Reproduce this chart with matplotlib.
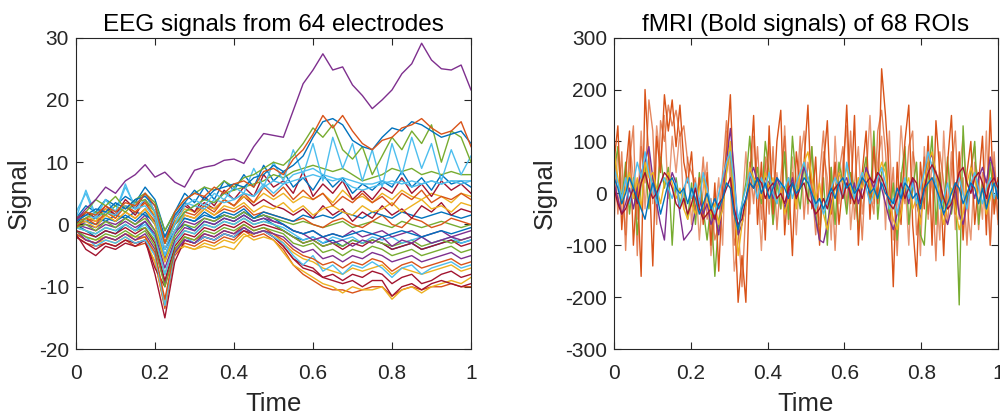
import numpy as np
import matplotlib
matplotlib.use("Agg")
import matplotlib.pyplot as plt

# ----------------------------------------------------------------------
# Data
# ----------------------------------------------------------------------
eeg_time = np.linspace(0, 1, 41)
fmri_time = np.linspace(0, 1, 100)

# MATLAB default colour order
C_BLUE, C_ORANGE, C_YELLOW, C_PURPLE = "#0072BD", "#D95319", "#EDB120", "#7E2F8E"
C_GREEN, C_CYAN, C_DRED = "#77AC30", "#4DBEEE", "#A2142F"

eeg_purple_top = [0.7, 2.5, 4, 6, 5, 7, 8, 9.6, 7.6, 8.4, 6.8, 6, 8.7, 9.2, 9.5, 10.3, 10.5,
                  9.8, 12.5, 14.6, 14.3, 14, 18.3, 22.6, 24.8, 27.4, 24.8, 25.3, 22.4, 20.7,
                  18.6, 20, 21.6, 24.2, 25.8, 29.1, 26.4, 25, 24.8, 25.6, 21.6]
eeg_red_top = [1, 2, 1.5, 3, 2, 3.5, 3, 5, 3, -3, 2, 4, 5, 4.5, 6, 5, 6.5, 7, 6, 8.5, 9, 8,
               10.5, 12, 14.5, 17.5, 15.5, 17.5, 15, 13, 12, 13.5, 14, 15.5, 16, 17, 15.5,
               14.5, 15, 16.5, 12.5]
eeg_blue_top = [0.5, 1.5, 2.5, 2, 3.5, 2.5, 4, 4.5, 3, -2, 1.5, 3.5, 5.5, 4, 5.5, 6, 6.5, 6,
                7.5, 8, 9.5, 8.5, 9.5, 11, 14, 16.5, 17, 16, 13.5, 12.5, 12, 14, 15.5, 15,
                16.5, 16, 15, 14, 14.5, 15, 13]
eeg_green_osc = [1, 2, 4, 3, 4.5, 2.5, 4, 5, 3.5, -1, 2, 4, 5, 6, 5.5, 7, 6, 7.5, 8, 9, 10,
                 9.5, 11, 13, 15.5, 14, 16, 12, 10.5, 12.5, 8, 11, 14, 12, 15, 13, 16, 10,
                 15, 14, 10]
eeg_cyan_osc = [2, 5, 1, 4, 2, 6, 3, 5, 2, -4, 0, 3, 4, 3, 5, 4, 6, 5, 9, 6, 10, 7, 12, 8,
                13, 7, 14, 9, 13, 7, 12, 6, 13, 8, 14, 9, 13, 7, 12, 8, 11]
eeg_green_9 = [0, 1, 2, 1.5, 3, 2, 3.5, 4, 2, -3, 0, 2, 3, 4, 3.5, 5, 5.5, 6, 6.5, 7, 8, 7.5,
               8.5, 9, 9.5, 9, 8.5, 9, 8, 7, 7.5, 8, 9, 8.5, 9, 8, 8.5, 8, 8.5, 8, 8]
eeg_cyan_7 = [0.5, 1.5, 1, 2, 1.5, 3, 2.5, 3, 1, -5, -1, 2, 3, 2.5, 4, 3.5, 4, 5, 4.5, 6, 7,
              6.5, 8, 8.5, 9, 8, 7.5, 7, 6, 5.5, 6, 6.5, 7, 6.5, 7, 6.5, 7, 6.5, 7, 7, 7]
eeg_cyan_spiky = [1, 5.5, 1.5, 4, 2, 6.5, 2.5, 4, 2, -2, 1, 3.5, 3, 4, 3.5, 5, 4, 5, 4.5,
                  6.5, 5, 6.5, 7, 7.5, 8, 7.5, 7, 7.5, 7, 6.5, 6.5, 7, 6.5, 7, 6, 6.5, 7,
                  6.5, 7, 6.5, 7]
eeg_blue_mid = [1, 3, 2, 4, 3, 4.5, 3.5, 6, 4, -1, 2, 5, 3.5, 6, 4, 7, 5.5, 8, 6, 9.5, 7,
                8.5, 6, 7.5, 5.5, 8, 6, 7.5, 5, 6.5, 5.5, 7, 6, 8.5, 6, 7.5, 5.5, 8, 6.5, 7, 6]
eeg_dred_mid = [0, 2, 1, 3, 1.5, 4, 2.5, 5, 2, -3, 1, 3.5, 2, 4.5, 3, 5.5, 4, 6, 4.5, 8, 6,
                7, 5, 8.5, 4.5, 6.5, 5, 7, 4, 5.5, 4, 6, 5, 7.5, 5, 6.5, 4.5, 7, 5.5, 6.5, 5]
eeg_orange_mid = [-0.5, 1, 0, 2, 1, 3, 2, 3.5, 1, -4, 0, 2, 1.5, 3, 2, 4, 3, 5, 3.5, 6, 4.5,
                  6, 4, 5.5, 4, 5, 3, 4.5, 3.5, 5, 3.5, 4.5, 3, 5, 4, 5.5, 3.5, 4.5, 4, 5, 4]
eeg_yellow_mid = [0.5, 1.5, 0.5, 2.5, 1, 3, 2, 3.5, 1.5, -3, 0.5, 2.5, 2, 3, 2.5, 4, 3, 4.5,
                  3.5, 5, 4, 5, 3.5, 4.5, 4, 5, 3.5, 5.5, 4, 4.5, 3.5, 5, 4, 5.5, 4.5, 4, 5,
                  4.5, 3.5, 5, 4.5]
eeg_yellow_3 = [0, 0.5, -0.5, 1.5, 0.5, 2, 1, 2.5, 0, -6, -1, 1.5, 1, 2.5, 1.5, 3, 2.5, 3.5,
                2, 3, 2.5, 3.5, 2, 3, 1.5, 2.5, 3, 2, 1.5, 3, 2, 2.5, 3.5, 2, 3, 4, 2.5, 3, 2,
                3.5, 3]
eeg_dred_2 = [0.5, 2, 1, 2.5, 1.5, 3, 1.5, 4, 1, -2, 1, 3, 2, 3.5, 2.5, 4, 3, 4.5, 3, 4, 3,
              2.5, 1.5, 2.5, 1, 3, 1.5, 2.5, 0.5, 2, 1, 3, 1.5, 2.5, 1, 3, 2, 3.5, 1.5, 2.5, 2]
eeg_blue_1 = [0, 0.5, 0, 1, 0.5, 1.5, 0.5, 2, 0, -5, -1, 1, 0.5, 2, 1, 2, 1.5, 2.5, 1, 2,
              1.5, 1, 0.5, 1.5, 1, 1.5, 1, 2, 1.5, 1, 2, 1.5, 1, 2, 1.5, 1, 1.5, 2, 1.5, 1, 1.5]
eeg_orange_0 = [0.5, 1, 0.5, 1.5, 0.5, 2, 1, 2.5, 0.5, -3, 0, 1.5, 1, 2.5, 1.5, 2.5, 2, 3,
                1.5, 2, 1.5, 1, 0.5, 1, 0, -0.5, 0.5, 1, 0, -0.5, 0.5, 1.5, 0, -0.5, 1, 0.5,
                -0.5, 0, 1, 0.5, 0]
eeg_green_0 = [-0.5, 0, -1, 0.5, -0.5, 1, 0, 1, -1, -6, -2, 0, -0.5, 1, 0.5, 1.5, 1, 2, 1,
               1.5, 1, 0.5, 0, 0.5, 0, -0.5, 0, 0.5, -0.5, 0, 0.5, 0, -0.5, 0.5, 0, -0.5, 0,
               0.5, 0, -0.5, 0]
eeg_blue_m1 = [0, 0.5, 1, 0.5, 1.5, 1, 2, 1.5, 0.5, -2, 0.5, 1, 0.5, 1.5, 1, 1.5, 1, 2, 1,
               1.5, 1, 0, -1, -1.5, -1, -2, -1.5, -2, -1.5, -1, -1.5, -2, -1.5, -1, -1.5, -2,
               -1.5, -1, -1.5, -1, -0.5]
eeg_purple_m1 = [0, -0.5, -1, 0, -0.5, 0.5, -0.5, 0.5, -1.5, -7, -2.5, -0.5, -1, 0.5, 0, 1,
                 0.5, 1.5, 0.5, 1, 0.5, 0, -1, -1.5, -1, -2, -1.5, -2, -1, -2, -1.5, -1, -2,
                 -1.5, -1, -2, -1.5, -1, -2, -1.5, -1]
eeg_purple_m2 = [0.5, 0, -0.5, 0.5, 0, 1, 0, 1.5, -1, -5.5, -1.5, 0.5, 0, 1, 0.5, 1.5, 1, 2,
                 1, 1.5, 0.5, 0, -1, -1.5, -2.5, -2, -3, -2.5, -3.5, -2.5, -3, -2, -3.5,
                 -2.5, -3, -2, -3, -2.5, -2, -2.5, -2]
eeg_cyan_m2 = [-0.5, -1, -1.5, -0.5, -1, 0, -1, 0, -2, -8, -3, -1, -1.5, 0, -0.5, 0.5, 0, 1,
               0, 0.5, 0, -0.5, -1.5, -2.5, -2, -3, -2, -2.5, -2, -3, -2, -2.5, -2, -3, -2.5,
               -2, -3, -2.5, -2, -3, -2.5]
eeg_green_m3 = [-0.5, -1, -1.5, -0.5, -1, 0, -1, -0.5, -2.5, -8, -3, -1, -1.5, 0, -0.5, 0.5,
                0, 1, 0, 0.5, 0, -1, -2, -3, -2.5, -3.5, -3, -3.5, -2.5, -3, -2.5, -3, -3.5,
                -3, -2.5, -3.5, -3, -2.5, -3, -2.5, -2]
eeg_dred_m3 = [-1, -1.5, -2, -1, -1.5, -0.5, -1.5, -0.5, -3, -9, -3.5, -1.5, -2, -0.5, -1, 0,
               -0.5, 0.5, -0.5, 0, -0.5, -1, -2, -3, -2.5, -3.5, -3, -4, -3, -3.5, -2.5, -3,
               -4, -3.5, -3, -4, -3.5, -3, -2.5, -3.5, -3]
eeg_blue_m3 = [0, -1, -2, -1, -1.5, 0, -1, 0.5, -2, -4, -1, 0, -1, 0.5, 0, 1, 0.5, 1.5, 0.5,
               1, 0, -1, -2, -2.5, -2, -3, -2.5, -3.5, -2.5, -3, -2.5, -3, -4, -3.5, -3, -4,
               -3.5, -3, -2.5, -3, -2.5]
eeg_green_m4 = [-1, -2, -2.5, -1.5, -2, -1, -2, -1, -3.5, -10, -4, -2, -2.5, -1, -1.5, -0.5,
                -1, 0, -1, -0.5, -1, -1.5, -3, -3.5, -3, -4.5, -4, -5, -4, -4.5, -3.5, -4, -5,
                -4.5, -4, -5, -4.5, -4, -3.5, -4.5, -4]
eeg_purple_m5 = [-1, -2.5, -3, -2, -2.5, -1.5, -2.5, -1.5, -4, -9.5, -4.5, -2.5, -3, -1.5, -2,
                 -1, -1.5, -0.5, -1.5, -1, -1.5, -2, -3.5, -4.5, -4, -5.5, -5, -6, -5, -5.5,
                 -4.5, -5, -6, -5.5, -5, -6, -5.5, -5, -4.5, -5.5, -5]
eeg_orange_m6 = [-1.5, -2.5, -3, -2, -2.5, -1.5, -2.5, -2, -4.5, -12, -4, -2, -2.5, -1.5, -2,
                 -1, -1.5, 0, -1, -0.5, -1.5, -2.5, -4, -5, -5.5, -6.5, -6, -7, -6, -6.5,
                 -5.5, -6, -7.5, -6.5, -6, -7, -6.5, -6, -5.5, -6.5, -6]
eeg_cyan_m7 = [-1, -2, -3.5, -2.5, -3, -2, -3, -2.5, -5, -13, -4.5, -2, -3, -2, -2.5, -1.5,
               -2, -0.5, -1.5, -1, -2, -3, -5, -6.5, -5, -7.5, -6.5, -8, -6.5, -7, -6, -7,
               -8.5, -7, -6.5, -8, -7, -6.5, -6, -7, -6.5]
eeg_yellow_m7 = [-1, -2, -2.5, -2, -2.5, -1.5, -2, -2, -5, -12.5, -4, -3.5, -4, -3.5, -4,
                 -3.5, -4, -2, -1.5, -1, -1.5, -3, -4.5, -5.5, -6, -7, -7.5, -8, -7, -7.5, -7,
                 -6.5, -8, -7, -7.5, -8, -7.5, -7, -6.5, -7.5, -7]
eeg_dred_m8 = [-1.5, -4, -5, -3.5, -4, -3, -3.5, -2.5, -8, -15, -6, -2.5, -3, -2, -2.5, -1.5,
               -2, -0.5, -1.5, -1, -2, -3.5, -5.5, -7, -7.5, -8.5, -8, -9, -8, -8.5, -7.5, -8,
               -9.5, -8.5, -8, -9.5, -9, -8, -7.5, -8.5, -8]
eeg_dred_m10 = [-2, -3, -4, -3, -3.5, -2.5, -3, -2.5, -7, -10, -4, -2.5, -3, -2, -2.5, -1.5,
                -2, -1, -1.5, -1, -2, -3.5, -5.5, -6.5, -7, -8.5, -9, -9.5, -9, -10, -9, -9,
                -11.5, -10, -9.5, -10.5, -9.5, -9, -9.5, -10, -9.5]
eeg_yellow_m10 = [-1.5, -2.5, -3, -2.5, -3, -2, -3, -2.5, -6, -13, -4.5, -3.5, -4, -3, -3.5,
                  -2.5, -3, -1.5, -2.5, -2, -2.5, -4.5, -6.5, -7.5, -8.5, -9.5, -10, -11, -10,
                  -10.5, -10.5, -10, -12, -10.5, -10, -11, -10, -9.5, -9, -9.5, -8.5]
eeg_orange_m10 = [-2, -3, -3.5, -3, -3.5, -2.5, -3.5, -3, -6, -13.5, -5, -3, -3.5, -2.5, -3,
                  -2, -2.5, -1, -2, -1.5, -2.5, -4, -6.5, -8, -9, -10, -10.5, -10.5, -11,
                  -10.5, -10, -10, -11.5, -10.5, -10, -10.5, -10, -10, -9.5, -10, -10]

eeg_series = [
    (eeg_orange_m10, C_ORANGE), (eeg_yellow_m10, C_YELLOW), (eeg_dred_m10, C_DRED),
    (eeg_dred_m8, C_DRED), (eeg_yellow_m7, C_YELLOW), (eeg_cyan_m7, C_CYAN),
    (eeg_orange_m6, C_ORANGE), (eeg_purple_m5, C_PURPLE), (eeg_green_m4, C_GREEN),
    (eeg_blue_m3, C_BLUE), (eeg_dred_m3, C_DRED), (eeg_green_m3, C_GREEN),
    (eeg_cyan_m2, C_CYAN), (eeg_purple_m2, C_PURPLE), (eeg_purple_m1, C_PURPLE),
    (eeg_blue_m1, C_BLUE), (eeg_green_0, C_GREEN), (eeg_orange_0, C_ORANGE),
    (eeg_blue_1, C_BLUE), (eeg_dred_2, C_DRED), (eeg_yellow_3, C_YELLOW),
    (eeg_yellow_mid, C_YELLOW), (eeg_orange_mid, C_ORANGE), (eeg_dred_mid, C_DRED),
    (eeg_blue_mid, C_BLUE), (eeg_cyan_spiky, C_CYAN), (eeg_cyan_7, C_CYAN),
    (eeg_green_9, C_GREEN), (eeg_cyan_osc, C_CYAN), (eeg_green_osc, C_GREEN),
    (eeg_blue_top, C_BLUE), (eeg_red_top, C_ORANGE), (eeg_purple_top, C_PURPLE),
]

fmri_orange_a = [60, 130, -70, 40, 120, -100, 20, -160, 200, 60, -140, 110, 40, 190, 120, 180,
                 90, 170, 60, 20, 80, -40, 30, -60, 40, -100, 20, -150, 10, 80, 190, -20,
                 -210, -120, -210, 30, 150, -60, 60, -90, 130, -40, 100, 160, -80, 30, -120,
                 80, 10, 60, 170, -30, 70, -100, 50, 140, -40, 60, -60, 20, 170, -20, 150,
                 -100, 40, 120, -50, 90, -20, 240, 150, 30, -180, 60, -60, 100, 170, -60,
                 -160, 60, -30, 110, -100, 140, 40, -120, 60, 150, -40, 80, -90, 40, 100, -60,
                 20, 110, -80, 160, -40, 30]
fmri_orange_b = [100, -40, 80, -110, 60, 130, -120, 90, 20, 180, 120, -60, 140, 100, 170, 130,
                 160, 110, 130, 60, 40, 20, -30, 70, -50, -10, -90, -60, 40, 140, 60, -100,
                 -60, -180, -30, 60, -20, 90, -50, 70, -40, 90, -70, 30, 110, -60, 40, -20,
                 110, -50, 60, 20, -80, 30, 120, -20, 50, -110, 40, 90, -30, 120, -50, 30,
                 -90, 60, 10, -40, 120, 160, 80, -40, 50, -120, 40, -20, 90, 120, -80, -20,
                 70, -40, 30, -130, 80, 20, -60, 40, 120, -50, 30, -100, 50, 90, -70, 40, 20,
                 -100, 80, -50]
fmri_orange_c = [-60, 90, 20, -80, 100, 30, -50, 120, -30, 80, -20, 130, 60, 150, -10, 110,
                 40, 120, -30, 70, -60, 30, -90, 10, 60, -120, -40, 30, -100, 120, 20, -150,
                 -90, -30, 80, -40, 110, 20, -110, 50, 90, -60, 40, -30, 130, -20, 70, -80,
                 60, 120, -40, 90, -10, -60, 80, 30, -90, 110, -20, 60, 130, -70, 20, 90,
                 -40, 30, 150, -20, 60, 110, -70, 120, -90, -20, 130, 30, -100, 80, 40, -120,
                 90, -50, 60, 20, -90, 120, -30, 80, -70, 40, 110, -20, -90, 60, 30, -50, 120,
                 -100, 50, -60]
fmri_green = [40, 90, -20, 60, -40, 30, -80, 20, 60, -30, 40, -10, 70, 10, 50, -100, 30, -20,
              10, -50, 20, -60, 40, -30, -90, -20, -160, -50, -30, 40, 90, -40, -80, -20, 20,
              110, 10, 50, -20, 100, 40, -60, 20, -30, 80, -50, 110, 20, -30, 60, -20, 90,
              -40, -90, 30, -100, 50, -60, 60, 20, -40, 40, 10, -70, 30, 70, -20, 120, -50,
              40, 60, -50, 20, -90, 30, 90, -60, 10, 60, -80, -100, 30, 110, -60, 40, -30,
              70, -40, 20, -215, 130, -20, 40, 100, -60, 20, -40, 60, -20, 10]
fmri_yellow = [80, 30, -20, 10, 40, -10, 30, -30, 60, 30, 40, 10, -20, 20, 40, 20, -10, 10,
               -30, -50, -20, -40, 10, 30, -10, -40, -20, -60, -30, 40, 100, -20, -120, -60,
               -20, 50, 30, 20, -10, 40, 10, 30, -20, 10, -40, -10, 20, -30, 40, 60, 80, 30,
               -10, 20, -40, -70, -30, 10, 40, 20, 50, 10, -20, 30, 10, 40, 20, -10, 30, 60,
               40, -20, -50, -70, -40, 10, 30, -30, -10, -60, 20, 60, 80, 40, -10, -60, -20,
               10, -30, -70, -40, 20, 50, 30, -20, 10, -40, -10, 20, 10]
fmri_purple = [20, -10, -40, -20, 10, -30, 10, 40, 60, 90, 30, -20, -60, -90, 10, 40, 20, -40,
               -90, -80, -70, -30, -10, -40, -20, -60, -40, -80, -20, 60, 125, 40, -80, -60,
               -20, 30, 50, 20, -10, 30, 20, -10, 30, 10, -30, 0, 30, -10, 20, 50, 30, -10,
               -50, -90, -95, -60, -20, 10, 40, 20, 30, -10, 20, -20, 10, 50, 30, 10, 40, 10,
               -20, -50, -70, -40, -10, 10, -20, 30, -20, -50, 10, 60, 75, 40, -10, -40, -60,
               -30, 10, -40, -60, -20, 20, -10, 30, 50, 20, 70, 40, -10]
fmri_cyan = [50, 20, -10, 30, -20, 20, 60, 30, 80, 40, 10, -20, 20, 30, 10, -10, 20, -30, 10,
             30, -10, 20, -20, 40, 10, -20, -40, 0, 30, 60, 80, 20, -50, -20, 10, 40, 20, -10,
             30, 10, 40, 0, -20, 20, 10, 30, -10, 20, 40, 60, 30, 0, -30, -10, -40, -20, 10,
             30, 10, -10, 60, 20, -10, 20, 40, 10, -20, 0, 30, 50, 20, -30, -10, -40, 0, 30,
             -10, 20, -20, 10, 40, 80, 50, 20, -30, -10, 20, -20, 10, 30, 0, -30, 20, 40, 10,
             -20, 10, 30, -10, 20]
fmri_dred = [10, -20, -40, -30, -10, 10, -20, 20, 40, 10, -10, 0, 20, 40, 30, 10, -20, -30,
             -10, -40, -20, 10, -30, -50, -40, -30, -50, -20, -10, 10, 30, -30, -60, -50, -10,
             20, 10, 30, 20, -10, 10, 20, -10, 0, -20, 10, 20, -10, 10, 20, -10, -20, -40,
             -30, -10, -30, 0, 10, 20, -10, 20, 0, -20, 10, -10, 20, 30, 20, 40, 30, 10, -20,
             -30, -10, 20, -10, 10, 30, 20, -20, 10, 40, 55, 40, 20, -10, -30, -20, 10, 40,
             50, 20, 0, 30, 40, 20, -10, 20, 30, 10]
fmri_blue = [30, 10, -20, 0, 30, 10, -10, -30, -50, -10, 20, 0, -40, -10, 20, 30, 10, 0, 10,
             -20, 10, -10, -40, -20, 0, -30, -10, -30, -10, 20, 10, -40, -70, -30, -10, 20,
             10, 30, 0, 20, -10, 10, 30, 20, 10, -10, 20, 0, 10, 30, 20, 0, -20, -10, -30,
             -10, 10, -10, 20, 30, 10, 20, 0, 10, 30, 20, 0, 10, -10, 20, 0, -10, -20, 10,
             -10, 20, 10, -10, 0, -30, 10, 20, 30, 10, -10, -40, -20, 0, 20, 10, -20, 0, 20,
             10, -20, 10, -30, 0, 20, -10]

fmri_series = [
    (fmri_orange_c, C_ORANGE, 0.6), (fmri_orange_b, C_ORANGE, 0.7), (fmri_green, C_GREEN, 1.0),
    (fmri_orange_a, C_ORANGE, 1.0), (fmri_purple, C_PURPLE, 1.0), (fmri_yellow, C_YELLOW, 1.0),
    (fmri_cyan, C_CYAN, 1.0), (fmri_dred, C_DRED, 1.0), (fmri_blue, C_BLUE, 1.0),
]

# ----------------------------------------------------------------------
# Style
# ----------------------------------------------------------------------
plt.rcParams["font.family"] = ["Liberation Sans", "DejaVu Sans"]
TEXT = "#262626"


def style_axes(ax, yticks, title):
    ax.set_xlim(0, 1)
    ax.set_ylim(yticks[0], yticks[-1])
    ax.set_xticks([0, 0.2, 0.4, 0.6, 0.8, 1])
    ax.set_xticklabels(["0", "0.2", "0.4", "0.6", "0.8", "1"])
    ax.set_yticks(yticks)
    ax.set_yticklabels([str(v) for v in yticks])
    ax.tick_params(direction="in", length=5, width=0.8, colors=TEXT, labelsize=15,
                   top=True, right=True)
    ax.tick_params(axis="x", pad=11)
    ax.tick_params(axis="y", pad=5)
    for sp in ax.spines.values():
        sp.set_color(TEXT)
        sp.set_linewidth(0.8)
    ax.set_title(title, fontsize=17.5, color="black", pad=5)
    ax.set_xlabel("Time", fontsize=18.5, color=TEXT, labelpad=6)
    ax.set_ylabel("Signal", fontsize=18.5, color=TEXT, labelpad=6)


# ----------------------------------------------------------------------
# Plot
# ----------------------------------------------------------------------
fig = plt.figure(figsize=(10, 4.18), dpi=100)
ax1 = fig.add_axes([0.076, 0.165, 0.395, 0.745])
ax2 = fig.add_axes([0.614, 0.165, 0.384, 0.745])

for vals, col in eeg_series:
    ax1.plot(eeg_time, vals, color=col, lw=1.0)
style_axes(ax1, [-20, -10, 0, 10, 20, 30], "EEG signals from 64 electrodes")

for vals, col, a in fmri_series:
    ax2.plot(fmri_time, vals, color=col, lw=1.0, alpha=a)
style_axes(ax2, [-300, -200, -100, 0, 100, 200, 300], "fMRI (Bold signals) of 68 ROIs")

fig.savefig("out.png", dpi=100)
